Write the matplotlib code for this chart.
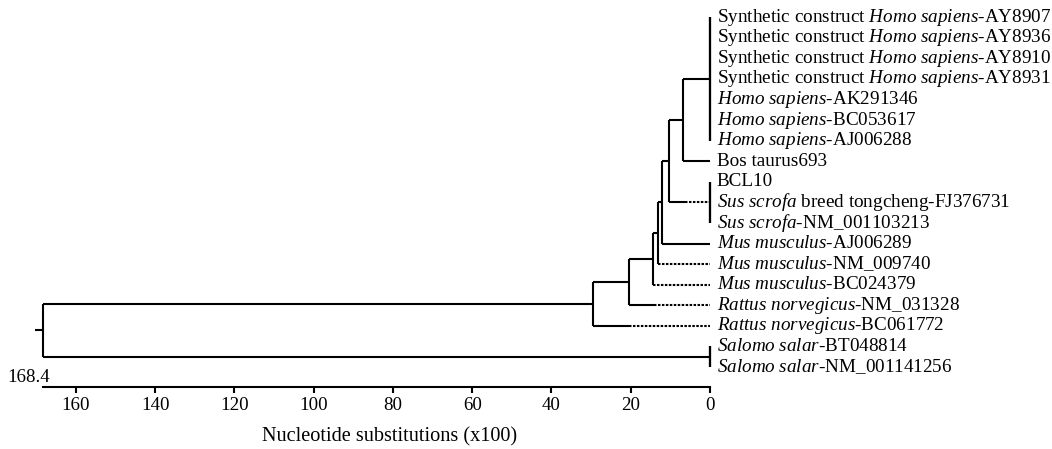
import matplotlib
matplotlib.use("Agg")
import matplotlib.pyplot as plt
import matplotlib.transforms as mtrans

# ---------------- data ----------------
leaf_labels = [
    r"Synthetic construct $\mathit{Homo\ sapiens}$-AY8907",
    r"Synthetic construct $\mathit{Homo\ sapiens}$-AY8936",
    r"Synthetic construct $\mathit{Homo\ sapiens}$-AY8910",
    r"Synthetic construct $\mathit{Homo\ sapiens}$-AY8931",
    r"$\mathit{Homo\ sapiens}$-AK291346",
    r"$\mathit{Homo\ sapiens}$-BC053617",
    r"$\mathit{Homo\ sapiens}$-AJ006288",
    "Bos taurus693",
    "BCL10",
    r"$\mathit{Sus\ scrofa}$ breed tongcheng-FJ376731",
    r"$\mathit{Sus\ scrofa}$-NM_001103213",
    r"$\mathit{Mus\ musculus}$-AJ006289",
    r"$\mathit{Mus\ musculus}$-NM_009740",
    r"$\mathit{Mus\ musculus}$-BC024379",
    r"$\mathit{Rattus\ norvegicus}$-NM_031328",
    r"$\mathit{Rattus\ norvegicus}$-BC061772",
    r"$\mathit{Salomo\ salar}$-BT048814",
    r"$\mathit{Salomo\ salar}$-NM_001141256",
]

# internal nodes: height (substitutions x100) and children (top to bottom)
node_heights = {"root": 168.4, "G": 29.5, "F": 20.4, "E": 14.4, "D": 13.1,
                "C": 12.2, "B": 10.3, "A": 6.8}
node_children = {"root": ["G", "Salmo"], "G": ["F", "RattusBC"],
                 "F": ["E", "RattusNM"], "E": ["D", "MusBC"],
                 "D": ["C", "MusNM"], "C": ["B", "MusAJ"],
                 "B": ["A", "Sus"], "A": ["Homo", "Bos"]}

# terminal groups: leaf indices and where the solid branch ends (dotted to 0 after)
tip_members = {"Homo": [0, 1, 2, 3, 4, 5, 6], "Bos": [7], "Sus": [8, 9, 10],
               "MusAJ": [11], "MusNM": [12], "MusBC": [13], "RattusNM": [14],
               "RattusBC": [15], "Salmo": [16, 17]}
tip_solid_end = {"Homo": 0.0, "Bos": 0.0, "Sus": 6.3, "MusAJ": 0.0,
                 "MusNM": 13.1, "MusBC": 14.4, "RattusNM": 14.2,
                 "RattusBC": 20.4, "Salmo": 0.0}

root_label = "168.4"
xticks = [0, 20, 40, 60, 80, 100, 120, 140, 160]
xlabel = "Nucleotide substitutions (x100)"

# ---------------- style ----------------
plt.rcParams["font.family"] = ["Liberation Serif", "DejaVu Serif"]
plt.rcParams["mathtext.fontset"] = "custom"
plt.rcParams["mathtext.rm"] = "Liberation Serif"
plt.rcParams["mathtext.it"] = "Liberation Serif:italic"
FS = 13.8
LW = 1.5
DOT = (0, (1.2, 0.7))

fig = plt.figure(figsize=(10.52, 4.49), dpi=100)
W, H = 1052, 449
x_left, x_right, ax_bottom = 42.7, 710, 387
ax = fig.add_axes([x_left / W, (H - ax_bottom) / H, (x_right - x_left) / W, ax_bottom / H])

root_h = node_heights["root"]
ax.set_xlim(root_h, 0)
# leaf i placed at y = i
ax.set_ylim(17.97, -0.83)

def line(x0, x1, y0, y1, ls="-", lw=LW):
    ax.plot([x0, x1], [y0, y1], color="black", lw=lw, ls=ls,
            solid_capstyle="butt", clip_on=False)

def draw(name):
    """draw subtree, return y of its attachment point"""
    if name in tip_members:
        idx = tip_members[name]
        if len(idx) > 1:
            line(0, 0, min(idx), max(idx), lw=LW * 1.1)
        return sum(idx) / len(idx)
    h = node_heights[name]
    ys = []
    for ch in node_children[name]:
        y = draw(ch)
        ys.append(y)
        if ch in node_heights:
            line(h, node_heights[ch], y, y)
        else:
            s = tip_solid_end[ch]
            if h > s:
                line(h, s, y, y)
            if s > 0:
                line(s, 0, y, y, ls=DOT)
    line(h, h, min(ys), max(ys))
    return sum(ys) / len(ys)

y_root = draw("root")
line(root_h + 1.9, root_h, y_root, y_root)

for i, lab in enumerate(leaf_labels):
    ax.annotate(lab, xy=(0, i), xytext=(5, 0), textcoords="offset points",
                ha="left", va="center", fontsize=FS, annotation_clip=False)

# axis
for sp in ["top", "left", "right"]:
    ax.spines[sp].set_visible(False)
ax.spines["bottom"].set_linewidth(LW)
ax.spines["bottom"].set_bounds(root_h, 0)
ax.set_yticks([])
ax.set_xticks(xticks)
ax.set_xticklabels([str(t) for t in xticks])
ax.tick_params(axis="x", direction="out", length=4.5, width=LW, pad=3, labelsize=13.6)

ax.text(166.6, (ax_bottom - 377) / ax_bottom, root_label,
        transform=mtrans.blended_transform_factory(ax.transData, ax.transAxes),
        ha="right", va="center", fontsize=13.6)

ax.set_xlabel(xlabel, fontsize=14.6)
ax.xaxis.set_label_coords((390 - x_left) / (x_right - x_left), (ax_bottom - 437) / ax_bottom)
ax.xaxis.label.set_verticalalignment("center")

fig.savefig("out.png", dpi=100)
